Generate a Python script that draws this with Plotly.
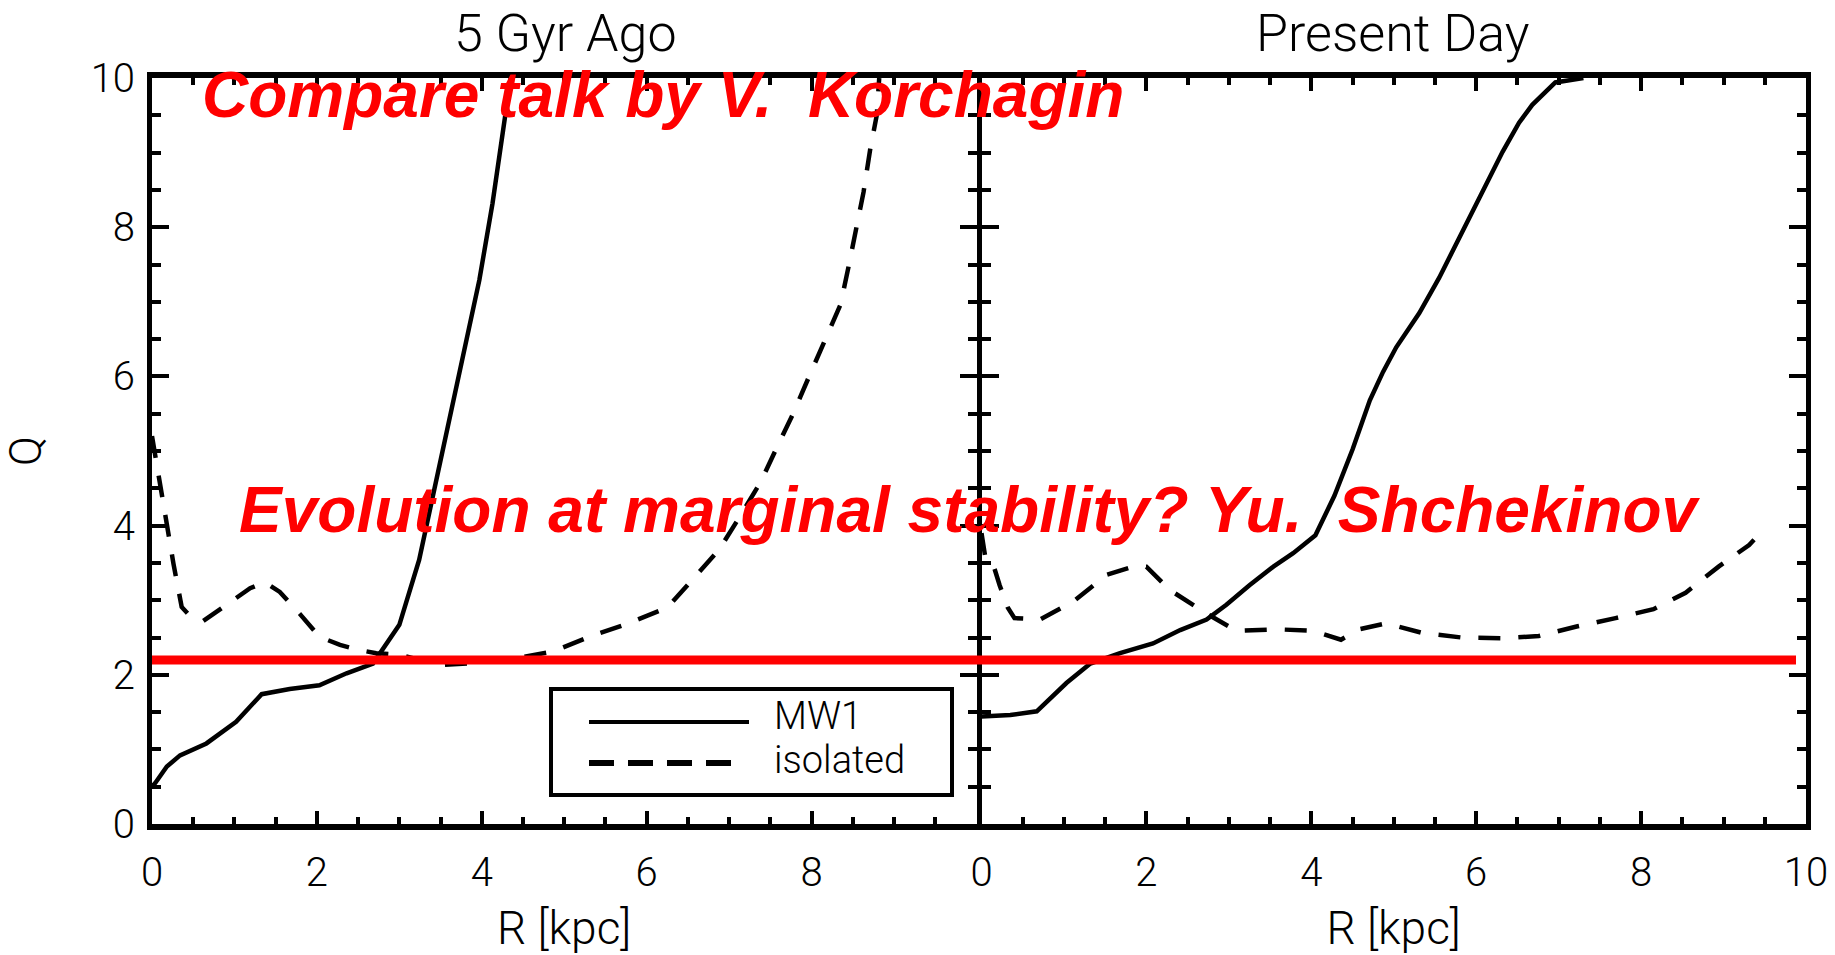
import plotly.graph_objects as go

# Toomre Q profiles, 5 Gyr ago (left) and present day (right)
r_mw1_past = [0.0, 0.04, 0.18, 0.34, 0.66, 1.02, 1.33, 1.67, 2.03, 2.36, 2.68, 3.0,
              3.24, 3.45, 3.73, 3.97, 4.13, 4.27, 4.35]
q_mw1_past = [0.5, 0.55, 0.77, 0.92, 1.08, 1.37, 1.74, 1.81, 1.86, 2.02, 2.15, 2.67,
              3.54, 4.61, 6.09, 7.29, 8.32, 9.44, 10.0]

r_iso_past = [0.0, 0.1, 0.18, 0.26, 0.36, 0.45, 0.62, 0.98, 1.19, 1.37, 1.55, 1.79, 2.03,
              2.28, 2.52, 2.72, 3.0, 3.49, 3.93, 4.4, 4.86, 5.35, 5.78, 6.25, 6.57, 6.88,
              7.14, 7.38, 7.58, 7.78, 7.97, 8.15, 8.35, 8.45, 8.55, 8.63, 8.71, 8.79, 8.82]
q_iso_past = [5.2, 4.52, 3.99, 3.49, 2.91, 2.8, 2.72, 3.0, 3.16, 3.24, 3.11, 2.82, 2.51,
              2.40, 2.33, 2.29, 2.27, 2.13, 2.16, 2.22, 2.31, 2.53, 2.69, 2.90, 3.30, 3.68,
              4.14, 4.58, 5.05, 5.51, 6.0, 6.44, 6.96, 7.48, 8.0, 8.47, 9.04, 9.5, 10.0]

r_mw1_now = [0.0, 0.35, 0.67, 1.03, 1.32, 1.68, 2.08, 2.41, 2.73, 2.97, 3.25, 3.54, 3.78,
             4.05, 4.28, 4.50, 4.71, 4.87, 5.03, 5.31, 5.55, 5.80, 6.08, 6.32, 6.52, 6.68,
             6.96, 7.3]
q_mw1_now = [1.44, 1.46, 1.51, 1.89, 2.15, 2.29, 2.42, 2.60, 2.74, 2.94, 3.20, 3.45, 3.63,
             3.87, 4.40, 5.02, 5.68, 6.06, 6.39, 6.85, 7.32, 7.86, 8.47, 9.01, 9.40, 9.64,
             9.94, 10.0]

r_iso_now = [0.0, 0.05, 0.15, 0.22, 0.32, 0.4, 0.71, 1.11, 1.52, 1.84, 2.0, 2.28, 2.73,
             3.09, 3.58, 4.02, 4.36, 4.58, 4.91, 5.35, 5.82, 6.32, 6.76, 7.23, 7.69, 8.15,
             8.54, 8.94, 9.31, 9.37]
q_iso_now = [3.9, 3.55, 3.45, 3.2, 2.9, 2.76, 2.74, 2.98, 3.34, 3.45, 3.45, 3.14, 2.82,
             2.59, 2.61, 2.59, 2.47, 2.61, 2.69, 2.56, 2.50, 2.49, 2.52, 2.65, 2.76, 2.88,
             3.10, 3.45, 3.74, 3.81]

q_marginal = 2.2

panel_titles = ["5 Gyr Ago", "Present Day"]
series_names = ["MW1", "isolated"]
x_ticks_left = [0, 2, 4, 6, 8]
x_ticks_right = [0, 2, 4, 6, 8, 10]
y_ticks = [0, 2, 4, 6, 8, 10]

W, H = 1835, 955
ML, MR, MT, MB = 152, 29, 78, 131
PW, PH = W - ML - MR, H - MT - MB
YLW = 5                      # frame line width of the vertical sides
GAP = YLW / 2 / PW           # lets the two shared sides overlap exactly

THIN = "Roboto"
thin_font = dict(family=THIN, size=40, color="black", weight=300)
red_font = dict(family="Liberation Sans", size=64, color="#ff0000", weight="bold",
                style="italic")


def px_x(p):
    return (p - ML) / PW


def px_y(p):
    return 1 - (p - MT) / PH


fig = go.Figure()
solid = dict(color="black", width=4.5)
dashed = dict(color="black", width=4.5, dash="22px,18px")

fig.add_trace(go.Scatter(x=r_mw1_past, y=q_mw1_past, mode="lines", line=solid,
                         name=series_names[0], xaxis="x", yaxis="y", showlegend=False))
fig.add_trace(go.Scatter(x=r_iso_past, y=q_iso_past, mode="lines", line=dashed,
                         name=series_names[1], xaxis="x", yaxis="y", showlegend=False))
fig.add_trace(go.Scatter(x=r_mw1_now, y=q_mw1_now, mode="lines", line=solid,
                         name=series_names[0], xaxis="x2", yaxis="y2", showlegend=False))
fig.add_trace(go.Scatter(x=r_iso_now, y=q_iso_now, mode="lines", line=dashed,
                         name=series_names[1], xaxis="x2", yaxis="y2", showlegend=False))

xcommon = dict(range=[0, 10], showgrid=False, zeroline=False, showline=True,
               linecolor="black", linewidth=6, mirror="ticks", ticks="inside",
               ticklen=13, tickwidth=4, tickcolor="black", tickfont=thin_font,
               ticklabelstandoff=8, automargin=False,
               minor=dict(tickmode="linear", tick0=0, dtick=0.5, ticks="inside",
                          ticklen=7, tickwidth=4, tickcolor="black"),
               title=dict(text="R [kpc]",
                          font=dict(family=THIN, size=46, weight=300, color="black"),
                          standoff=22))
ycommon = dict(range=[0, 10], showgrid=False, zeroline=False, showline=True,
               linecolor="black", linewidth=YLW, mirror="ticks", ticks="inside",
               ticklen=17, tickwidth=4, tickcolor="black", tickfont=thin_font,
               tickmode="array", tickvals=y_ticks, ticklabelstandoff=4,
               automargin=False,
               minor=dict(tickmode="linear", tick0=0, dtick=0.5, ticks="inside",
                          ticklen=9, tickwidth=4, tickcolor="black"))

fig.update_layout(
    width=W, height=H, margin=dict(l=ML, r=MR, t=MT, b=MB),
    paper_bgcolor="white", plot_bgcolor="white", showlegend=False,
    xaxis=dict(xcommon, domain=[0, 0.5 - GAP], anchor="y", tickmode="array",
               tickvals=x_ticks_left),
    xaxis2=dict(xcommon, domain=[0.5 + GAP, 1], anchor="y2", tickmode="array",
                tickvals=x_ticks_right),
    yaxis=dict(ycommon, anchor="x",
               title=dict(text="Q",
                          font=dict(family=THIN, size=44, weight=300, color="black"),
                          standoff=46)),
    yaxis2=dict(ycommon, anchor="x2", showticklabels=False),
)

# panel titles
for i, t in enumerate(panel_titles):
    fig.add_annotation(text=t, xref="paper", yref="paper", x=0.25 + 0.5 * i,
                       y=px_y(33), xanchor="center", yanchor="middle", showarrow=False,
                       font=dict(family=THIN, size=52, weight=300, color="black"))

# marginal-stability level across both panels
fig.add_shape(type="line", xref="paper", yref="y", x0=0, x1=px_x(1796),
              y0=q_marginal, y1=q_marginal, line=dict(color="#ff0000", width=9),
              layer="above")

# legend box
fig.add_shape(type="rect", xref="paper", yref="paper", x0=px_x(551), x1=px_x(952),
              y0=px_y(795), y1=px_y(689), line=dict(color="black", width=4),
              fillcolor="white", layer="above")
fig.add_shape(type="line", xref="paper", yref="paper", x0=px_x(589), x1=px_x(749),
              y0=px_y(722), y1=px_y(722), line=dict(color="black", width=4),
              layer="above")
fig.add_shape(type="line", xref="paper", yref="paper", x0=px_x(589), x1=px_x(731),
              y0=px_y(763), y1=px_y(763),
              line=dict(color="black", width=6, dash="25px,14px"), layer="above")
for name, yy in zip(series_names, [716, 760]):
    fig.add_annotation(text=name, xref="paper", yref="paper", x=px_x(772), y=px_y(yy),
                       xanchor="left", yanchor="middle", showarrow=False,
                       font=dict(family=THIN, size=38, weight=300, color="black"))

# talk references
fig.add_annotation(text="Compare talk by V.\u00a0 Korchagin", xref="paper", yref="paper",
                   x=px_x(200), y=px_y(95), xanchor="left", yanchor="middle",
                   showarrow=False, font=red_font)
fig.add_annotation(text="Evolution at marginal stability? Yu.\u00a0 Shchekinov",
                   xref="paper", yref="paper", x=px_x(237), y=px_y(510),
                   xanchor="left", yanchor="middle", showarrow=False, font=red_font)

fig.write_html("out.html")
